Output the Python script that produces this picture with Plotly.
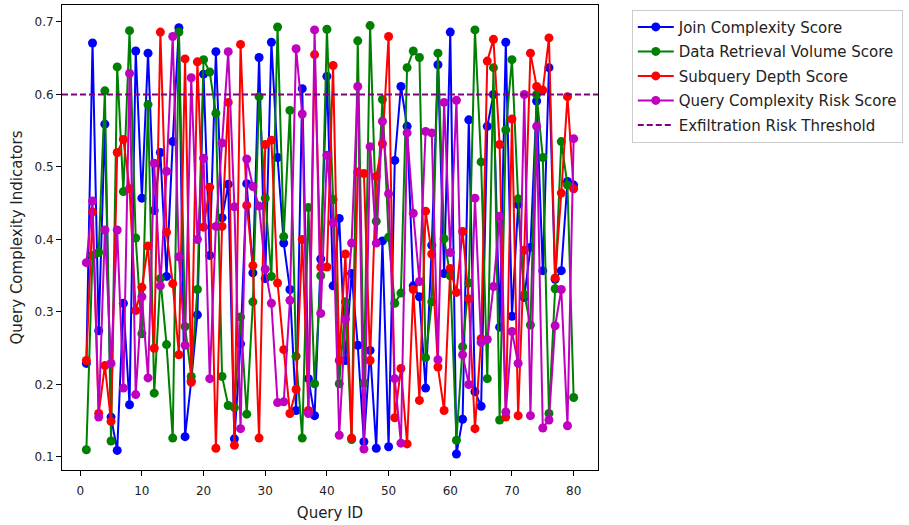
import plotly.graph_objects as go

query_ids = list(range(1, 81))

join_complexity = [
    0.229, 0.671, 0.274, 0.559, 0.155, 0.109, 0.312, 0.172, 0.660, 0.457,
    0.657, 0.440, 0.520, 0.349, 0.535, 0.692, 0.128, 0.205, 0.296, 0.628,
    0.378, 0.659, 0.430, 0.476, 0.125, 0.256, 0.477, 0.354, 0.651, 0.346,
    0.672, 0.513, 0.395, 0.331, 0.164, 0.608, 0.208, 0.157, 0.373, 0.625,
    0.336, 0.429, 0.233, 0.353, 0.254, 0.121, 0.247, 0.112, 0.398, 0.114,
    0.509, 0.611, 0.556, 0.336, 0.321, 0.195, 0.392, 0.641, 0.353, 0.686,
    0.104, 0.152, 0.565, 0.190, 0.170, 0.556, 0.600, 0.279, 0.672, 0.294,
    0.448, 0.320, 0.389, 0.591, 0.357, 0.637, 0.345, 0.357, 0.480, 0.475,
]

data_retrieval = [
    0.110, 0.378, 0.382, 0.605, 0.122, 0.638, 0.466, 0.688, 0.402, 0.270,
    0.586, 0.188, 0.346, 0.255, 0.126, 0.686, 0.280, 0.211, 0.331, 0.648,
    0.631, 0.574, 0.211, 0.171, 0.168, 0.293, 0.159, 0.314, 0.597, 0.457,
    0.349, 0.693, 0.404, 0.578, 0.239, 0.126, 0.444, 0.201, 0.350, 0.690,
    0.455, 0.201, 0.314, 0.124, 0.674, 0.202, 0.695, 0.425, 0.593, 0.403,
    0.312, 0.326, 0.637, 0.660, 0.651, 0.237, 0.314, 0.657, 0.401, 0.350,
    0.123, 0.252, 0.340, 0.689, 0.507, 0.208, 0.637, 0.151, 0.551, 0.648,
    0.456, 0.324, 0.282, 0.600, 0.513, 0.160, 0.332, 0.535, 0.475, 0.182,
]

subquery_depth = [
    0.233, 0.438, 0.160, 0.226, 0.149, 0.520, 0.538, 0.470, 0.302, 0.334,
    0.391, 0.250, 0.686, 0.410, 0.339, 0.241, 0.649, 0.203, 0.645, 0.417,
    0.472, 0.112, 0.418, 0.589, 0.116, 0.669, 0.447, 0.364, 0.126, 0.531,
    0.537, 0.340, 0.248, 0.160, 0.193, 0.400, 0.164, 0.655, 0.362, 0.362,
    0.640, 0.233, 0.380, 0.126, 0.493, 0.491, 0.233, 0.487, 0.532, 0.680,
    0.154, 0.222, 0.118, 0.331, 0.178, 0.439, 0.380, 0.224, 0.164, 0.360,
    0.327, 0.411, 0.318, 0.139, 0.263, 0.646, 0.676, 0.531, 0.155, 0.566,
    0.157, 0.385, 0.657, 0.611, 0.606, 0.678, 0.347, 0.464, 0.597, 0.470,
]

risk_score = [
    0.368, 0.453, 0.155, 0.413, 0.229, 0.413, 0.195, 0.629, 0.186, 0.321,
    0.209, 0.505, 0.336, 0.494, 0.680, 0.376, 0.254, 0.623, 0.400, 0.512,
    0.208, 0.418, 0.533, 0.659, 0.445, 0.139, 0.511, 0.473, 0.446, 0.359,
    0.312, 0.175, 0.176, 0.316, 0.663, 0.573, 0.160, 0.689, 0.298, 0.516,
    0.423, 0.130, 0.290, 0.395, 0.611, 0.111, 0.528, 0.395, 0.563, 0.463,
    0.208, 0.119, 0.547, 0.436, 0.342, 0.549, 0.547, 0.234, 0.589, 0.382,
    0.592, 0.241, 0.200, 0.457, 0.258, 0.262, 0.335, 0.432, 0.162, 0.273,
    0.229, 0.600, 0.157, 0.556, 0.140, 0.151, 0.281, 0.331, 0.143, 0.539,
]

threshold = 0.6

series = [
    ("Join Complexity Score", join_complexity, "#0000ff"),
    ("Data Retrieval Volume Score", data_retrieval, "#008000"),
    ("Subquery Depth Score", subquery_depth, "#ff0000"),
    ("Query Complexity Risk Score", risk_score, "#bf00bf"),
]

FONT = "DejaVu Sans, Arial, sans-serif"

fig = go.Figure()
for k, (name, vals, color) in enumerate(series):
    fig.add_trace(go.Scatter(
        x=query_ids, y=vals, mode="lines+markers", name=name,
        legendgroup="g%d" % k,
        line=dict(color=color, width=2),
        marker=dict(color=color, size=9),
    ))

pad = 0.05 * (max(query_ids) - min(query_ids))
x_lo, x_hi = min(query_ids) - pad, max(query_ids) + pad

fig.add_trace(go.Scatter(
    x=[x_lo, x_hi], y=[threshold, threshold], mode="lines",
    name="Exfiltration Risk Threshold", legendgroup="thr",
    line=dict(color="#800080", width=2, dash="6px,3px"),
    hoverinfo="skip",
))

axis_common = dict(
    showgrid=False, zeroline=False, showline=True, mirror=True,
    linecolor="black", linewidth=1, ticks="outside", ticklen=5,
    tickcolor="black", tickfont=dict(family=FONT, size=12, color="#222"),
)

fig.update_layout(
    width=909, height=525,
    margin=dict(l=62, r=311, t=5, b=55),
    paper_bgcolor="white", plot_bgcolor="white",
    font=dict(family=FONT, color="#222"),
    xaxis=dict(
        range=[x_lo, x_hi], tickmode="array",
        tickvals=[0, 10, 20, 30, 40, 50, 60, 70, 80],
        ticklabelstandoff=5,
        title=dict(text="Query ID", font=dict(family=FONT, size=15), standoff=10),
        **axis_common,
    ),
    yaxis=dict(
        range=[0.082, 0.7234], tickmode="array",
        tickvals=[0.1, 0.2, 0.3, 0.4, 0.5, 0.6, 0.7],
        ticktext=["0.1", "0.2", "0.3", "0.4", "0.5", "0.6", "0.7"],
        title=dict(text="Query Complexity Indicators", font=dict(family=FONT, size=15), standoff=8),
        **axis_common,
    ),
    legend=dict(
        x=1.063, y=0.99, xanchor="left", yanchor="top",
        bordercolor="#cccccc", borderwidth=1, bgcolor="rgba(255,255,255,0.8)",
        font=dict(family=FONT, size=15, color="#222"),
        itemwidth=36, tracegroupgap=2,
    ),
    showlegend=True,
)

fig.write_html("out.html")
